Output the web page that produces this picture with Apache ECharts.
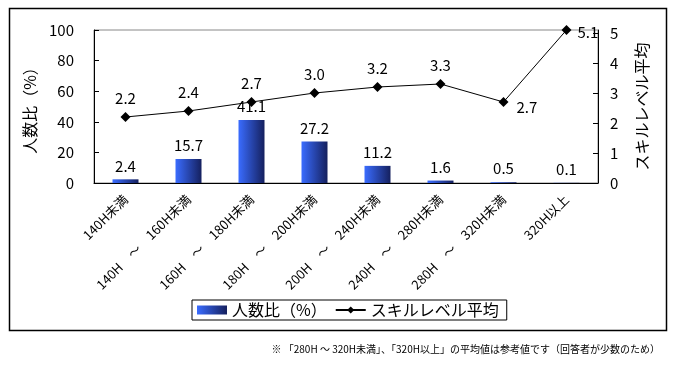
<!DOCTYPE html>
<html><head><meta charset="utf-8">
<script src="https://cdn.jsdelivr.net/npm/echarts@6/dist/echarts.min.js"></script>
<style>html,body{margin:0;padding:0;background:#fff}#c{width:673px;height:367px}</style>
</head><body><div id="c"></div>
<script>
var categories = ['140H未満','140H\u3000～\u3000160H未満','160H\u3000～\u3000180H未満','180H\u3000～\u3000200H未満','200H\u3000～\u3000240H未満','240H\u3000～\u3000280H未満','280H\u3000～\u3000320H未満','320H以上'];
var ratioValues = [2.4, 15.7, 41.1, 27.2, 11.2, 1.6, 0.5, 0.1];
var skillValues = [2.2, 2.4, 2.7, 3.0, 3.2, 3.3, 2.7, 5.1];
var leftTicks = [0, 20, 40, 60, 80, 100];
var rightTicks = [0, 1, 2, 3, 4, 5];
var barName = '人数比（%）';
var lineName = 'スキルレベル平均';
var note = '※ 「280H ～ 320H未満」、「320H以上」の平均値は参考値です（回答者が少数のため）';

var FONT = '"Noto Sans CJK JP", "Liberation Sans", sans-serif';
var chart = echarts.init(document.getElementById('c'), null, {renderer: 'canvas'});
var grad = new echarts.graphic.LinearGradient(0, 0, 1, 0, [
  {offset: 0, color: '#3a6cff'}, {offset: 1, color: '#15205e'}
]);
var lineData = skillValues.map(function (v, i) {
  var d = {value: v};
  if (i === 6) d.label = {position: 'right', offset: [2, 5]};
  if (i === 7) d.label = {position: 'right', offset: [0, 2]};
  return d;
});
chart.setOption({
  animation: false,
  textStyle: {fontFamily: FONT, color: '#000'},
  graphic: [
    {type: 'rect', left: 7, top: 6, shape: {width: 657, height: 322}, style: {fill: 'none', stroke: '#000', lineWidth: 1.5}, silent: true},
    {type: 'text', right: 13, top: 344, style: {text: note, font: '10px ' + FONT, fill: '#000'}}
  ],
  grid: {left: 94, right: 75, top: 30, bottom: 184, show: true, borderColor: '#888', borderWidth: 1, backgroundColor: 'transparent'},
  legend: {
    left: 192, top: 300, orient: 'horizontal', width: 460,
    padding: [2, 8, 2, 5], itemGap: 8,
    borderColor: '#000', borderWidth: 1,
    itemWidth: 30, itemHeight: 9,
    textStyle: {fontSize: 16, fontFamily: FONT, color: '#000'},
    data: [{name: barName, icon: 'rect'}, {name: lineName}]
  },
  xAxis: {
    type: 'category', data: categories,
    axisLine: {lineStyle: {color: '#000', width: 1}},
    axisTick: {inside: true, length: 5, lineStyle: {color: '#000'}},
    axisLabel: {rotate: 45, fontSize: 13, color: '#000', margin: 14, interval: 0, fontFamily: FONT}
  },
  yAxis: [{
    type: 'value', min: 0, max: 100, interval: 20,
    name: '人数比（%）', nameLocation: 'middle', nameGap: 56,
    nameTextStyle: {fontSize: 16, fontFamily: FONT, color: '#000'},
    axisLine: {show: true, lineStyle: {color: '#000'}},
    axisTick: {show: true, inside: true, length: 5, lineStyle: {color: '#000'}},
    axisLabel: {fontSize: 15, color: '#000', margin: 20, fontFamily: FONT},
    splitLine: {show: false}
  }, {
    type: 'value', min: 0, max: 5.1, interval: 1, position: 'right',
    name: 'スキルレベル平均', nameLocation: 'middle', nameGap: 36,
    nameTextStyle: {fontSize: 16, fontFamily: FONT, color: '#000'},
    axisLine: {show: true, lineStyle: {color: '#000'}},
    axisTick: {show: true, inside: true, length: 5, lineStyle: {color: '#000'}},
    axisLabel: {fontSize: 15, color: '#000', margin: 12, showMaxLabel: false, fontFamily: FONT,
      formatter: function (v) { return rightTicks.indexOf(v) >= 0 ? String(v) : ''; }},
    splitLine: {show: false}
  }],
  series: [{
    name: barName, type: 'bar', data: ratioValues, barWidth: 26,
    itemStyle: {color: grad},
    label: {show: true, position: 'top', distance: 6, fontSize: 15, color: '#000', fontFamily: FONT,
      formatter: function (p) { return p.value.toFixed(1); }}
  }, {
    name: lineName, type: 'line', yAxisIndex: 1, data: lineData,
    symbol: 'diamond', symbolSize: 10,
    lineStyle: {color: '#000', width: 1},
    itemStyle: {color: '#000'},
    label: {show: true, position: 'top', distance: 6, fontSize: 15, color: '#000', fontFamily: FONT,
      formatter: function (p) { return p.value.toFixed(1); }}
  }]
});
</script></body></html>
